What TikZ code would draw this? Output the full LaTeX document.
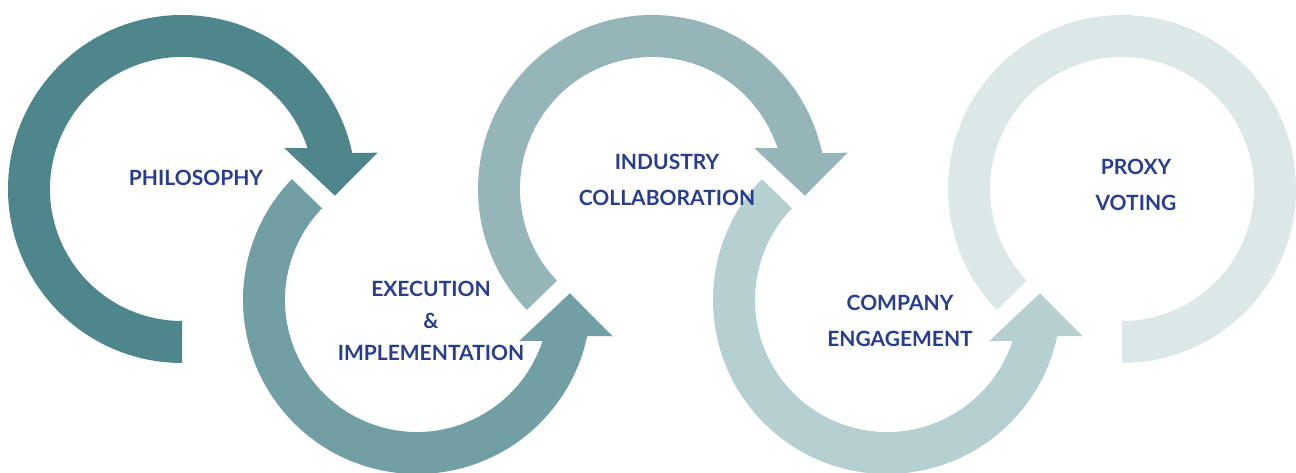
\documentclass[tikz,border=0pt]{standalone}
\usepackage{fontspec}
\setmainfont{Lato}
\definecolor{tealone}{RGB}{78,134,140}
\definecolor{tealtwo}{RGB}{114,159,164}
\definecolor{tealthree}{RGB}{149,181,185}
\definecolor{tealfour}{RGB}{182,207,209}
\definecolor{tealfive}{RGB}{220,232,232}
\definecolor{labelblue}{RGB}{40,61,140}
\begin{document}
\begin{tikzpicture}[x=1pt,y=1pt]

    \tikzset{
      steplabel/.style={
        text=labelblue,
        align=center,
        inner sep=0pt,
        font=\bfseries\fontsize{21}{36}\selectfont,
      },
    }
    \useasboundingbox (0,0) rectangle (1296,473);
    % ring 1, clockwise
    \begin{scope}[shift={(182,284)}]
	\fill[tealone] (270:174) arc[start angle=270, end angle=12, radius=174] -- (10.5:199) -- (-2.5:153) -- (22:110) -- (18:132) arc[start angle=18, end angle=270, radius=132] -- cycle;
    \end{scope}
    % ring 2, anticlockwise
    \begin{scope}[shift={(417,173)}]
	\fill[tealtwo] (136:174) arc[start angle=136, end angle=348, radius=174] -- (349.5:199) -- (2.5:153) -- (338:110) -- (342:132) arc[start angle=342, end angle=136, radius=132] -- cycle;
    \end{scope}
    % ring 3, clockwise
    \begin{scope}[shift={(652,284)}]
	\fill[tealthree] (224:174) arc[start angle=224, end angle=12, radius=174] -- (10.5:199) -- (-2.5:153) -- (22:110) -- (18:132) arc[start angle=18, end angle=224, radius=132] -- cycle;
    \end{scope}
    % ring 4, anticlockwise
    \begin{scope}[shift={(887,173)}]
	\fill[tealfour] (136:174) arc[start angle=136, end angle=348, radius=174] -- (349.5:199) -- (2.5:153) -- (338:110) -- (342:132) arc[start angle=342, end angle=136, radius=132] -- cycle;
    \end{scope}
    % ring 5, no head
    \begin{scope}[shift={(1122,284)}]
	\fill[tealfive] (224:174) arc[start angle=224, end angle=-90, radius=174] -- (-90:132) arc[start angle=-90, end angle=224, radius=132] -- cycle;
    \end{scope}

	\node[steplabel] (philosophy) at (196,295) {PHILOSOPHY};
	\node[steplabel, font=\bfseries\fontsize{21}{32}\selectfont] (execution) at (431,152) {EXECUTION\\\&\\IMPLEMENTATION};
	\node[steplabel] (industry) at (667,293) {INDUSTRY\\COLLABORATION};
	\node[steplabel] (company) at (900,152) {COMPANY\\ENGAGEMENT};
	\node[steplabel] (proxy) at (1136,288) {PROXY\\VOTING};

\end{tikzpicture}
\end{document}
